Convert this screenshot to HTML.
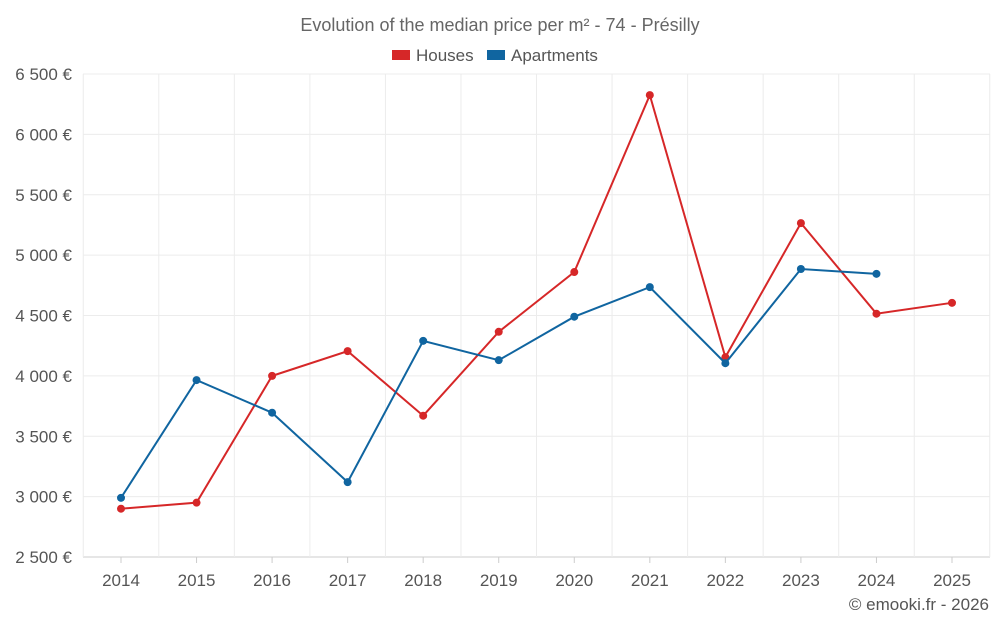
<!DOCTYPE html>
<html><head><meta charset="utf-8">
<style>
html,body{margin:0;padding:0;background:#fff;}
svg{display:block;font-family:"Liberation Sans",sans-serif;}
</style></head>
<body>
<svg id="chart" width="1000" height="625" viewBox="0 0 1000 625">
  <text x="500" y="31" text-anchor="middle" font-size="18" fill="#666">Evolution of the median price per m² - 74 - Présilly</text>
  <g>
    <g>
      <rect x="392" y="50" width="18" height="10" fill="#d62728"/>
      <text x="416" y="61" font-size="17" fill="#555">Houses</text>
    </g>
    <g>
      <rect x="487" y="50" width="18" height="10" fill="#1065a0"/>
      <text x="511" y="61" font-size="17" fill="#555">Apartments</text>
    </g>
  </g>
  <g id="grid"></g>
  <g id="marks"></g>
  <text x="989" y="610" text-anchor="end" font-size="17" fill="#555">© emooki.fr - 2026</text>
</svg>
<script>
const years = [2014,2015,2016,2017,2018,2019,2020,2021,2022,2023,2024,2025];
const houses = [2900,2950,4000,4205,3670,4365,4860,6325,4155,5265,4515,4605];
const apartments = [2990,3965,3695,3120,4290,4130,4490,4735,4105,4885,4845,null];
const yTicks = [2500,3000,3500,4000,4500,5000,5500,6000,6500];
const yTickLabels = ["2 500 €","3 000 €","3 500 €","4 000 €","4 500 €","5 000 €","5 500 €","6 000 €","6 500 €"];

const NS="http://www.w3.org/2000/svg";
const L=83,R=990,T=74,B=557,yMin=2500,yMax=6500;
const x=i=>121+i*(952-121)/(years.length-1);
const y=v=>B-(v-yMin)/(yMax-yMin)*(B-T);
function mk(tag,attrs,parent){const e=document.createElementNS(NS,tag);for(const k in attrs)e.setAttribute(k,attrs[k]);parent.appendChild(e);return e;}
const grid=document.getElementById('grid'),marks=document.getElementById('marks');
yTicks.forEach((v,i)=>{
  const ln=mk('line',{x1:L,x2:R,y1:y(v),y2:y(v),stroke:i===0?'#ccc':'#ececec','stroke-width':1},grid);
  
  
  const t=mk('text',{x:72,y:y(v)+6,'text-anchor':'end','font-size':17,fill:'#555'},grid);
  t.textContent=yTickLabels[i];
  
  
});
years.forEach((yr,i)=>{
  const gx=x(i)-37.75;
  const ln=mk('line',{x1:gx,x2:gx,y1:T,y2:B,stroke:'#ececec','stroke-width':1},grid);
  
  
  const tk=mk('line',{x1:x(i),x2:x(i),y1:B,y2:B+6,stroke:'#ccc'},grid);
  
  
  const t=mk('text',{x:x(i),y:586,'text-anchor':'middle','font-size':17,fill:'#555'},grid);
  t.textContent=yr;
  
  
});
const lastGx=x(years.length-1)+37.75;
const lg=mk('line',{x1:lastGx,x2:lastGx,y1:T,y2:B,stroke:'#ececec'},grid);


function series(data,color,name){
  const pts=[];data.forEach((v,i)=>{if(v!=null)pts.push([x(i),y(v)]);});
  const p=mk('polyline',{points:pts.map(p=>p.join(',')).join(' '),fill:'none',stroke:color,'stroke-width':2},marks);
  
  
  pts.forEach(pt=>{
    const c=mk('circle',{cx:pt[0],cy:pt[1],r:4,fill:color},marks);
    
    
  });
}
series(houses,'#d62728','houses');
series(apartments,'#1065a0','apartments');
</script>
</body></html>
